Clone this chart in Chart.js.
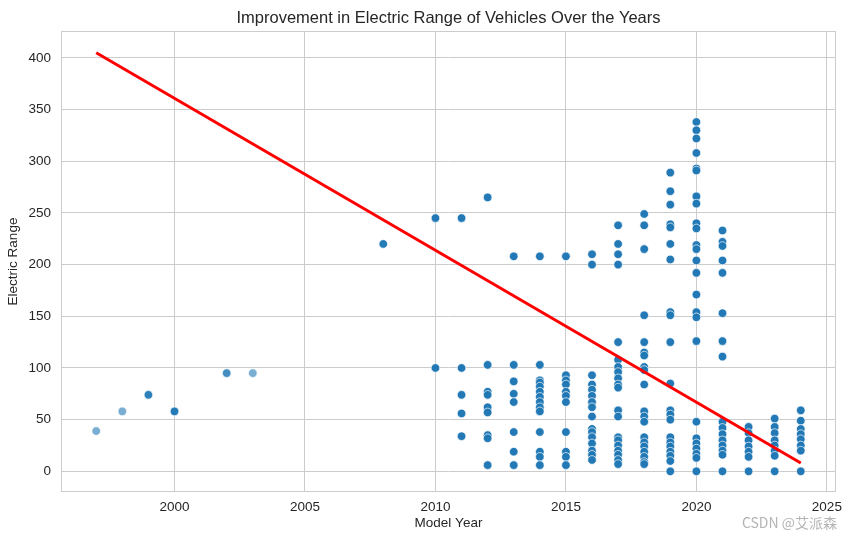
<!DOCTYPE html>
<html><head><meta charset="utf-8">
<script src="https://cdn.jsdelivr.net/npm/chart.js@4"></script>
<style>html,body{margin:0;padding:0;background:#fff}</style>
</head><body>
<canvas id="c" width="852" height="541" style="width:852px;height:541px;display:block"></canvas>
<script>
// ---- data ----
const modelYears = [
  1997,1998,1999,2000,2002,2003,2008,
  2010,2010,
  2011,2011,2011,2011,2011,
  2012,2012,2012,2012,2012,2012,2012,2012,2012,
  2013,2013,2013,2013,2013,2013,2013,2013,
  2014,2014,2014,2014,2014,2014,2014,2014,2014,2014,2014,2014,2014,2014,
  2015,2015,2015,2015,2015,2015,2015,2015,2015,2015,2015,
  2016,2016,2016,2016,2016,2016,2016,2016,2016,2016,2016,2016,2016,2016,2016,2016,
  2017,2017,2017,2017,2017,2017,2017,2017,2017,2017,2017,2017,2017,2017,2017,2017,2017,2017,2017,2017,
  2018,2018,2018,2018,2018,2018,2018,2018,2018,2018,2018,2018,2018,2018,2018,2018,2018,2018,2018,2018,
  2019,2019,2019,2019,2019,2019,2019,2019,2019,2019,2019,2019,2019,2019,2019,2019,2019,2019,2019,2019,2019,
  2020,2020,2020,2020,2020,2020,2020,2020,2020,2020,2020,2020,2020,2020,2020,2020,2020,2020,2020,2020,2020,2020,2020,2020,2020,
  2021,2021,2021,2021,2021,2021,2021,2021,2021,2021,2021,2021,2021,2021,2021,2021,
  2022,2022,2022,2022,2022,2022,2022,
  2023,2023,2023,2023,2023,2023,2023,2023,
  2024,2024,2024,2024,2024,2024,2024,2024
];
const electricRanges = [
  39,58,74,58,95,95,220,
  245,100,
  245,100,74,56,34,
  265,103,77,74,62,57,35,32,6,
  208,103,87,75,67,38,19,6,
  208,103,88,86,82,77,72,67,62,58,38,19,14,6,
  208,93,88,84,77,73,67,38,19,14,6,
  210,200,93,84,79,73,67,62,53,41,38,33,27,20,16,11,
  238,220,210,200,125,108,101,96,90,84,81,59,53,33,30,25,20,16,11,7,
  249,238,215,151,125,115,112,101,98,84,58,53,48,33,28,24,19,14,9,7,
  289,271,258,239,236,220,205,154,151,125,85,59,55,50,33,28,24,19,15,10,0,
  338,330,322,308,293,291,266,259,240,235,219,215,204,192,171,154,149,126,48,32,27,22,17,13,0,
  233,222,218,204,192,153,126,111,48,42,36,30,25,20,16,0,
  43,37,30,24,19,14,0,
  51,43,37,30,25,20,15,0,
  59,49,41,36,31,25,20,0
];
// number of vehicles overlapping at each early point (later points are dense)
const recordCounts = [1,1,3,4,2,1,4];
const regressionYears = [1997, 2024];
const regressionValues = [405, 8];
const xTickValues = [2000, 2005, 2010, 2015, 2020, 2025];
const yTickValues = [0, 50, 100, 150, 200, 250, 300, 350, 400];
const chartTitle = 'Improvement in Electric Range of Vehicles Over the Years';

// ---- build ----
const scatterPoints = modelYears.map((x, i) => ({x, y: electricRanges[i]}));
const regressionPoints = regressionYears.map((x, i) => ({x, y: regressionValues[i]}));

const FONT = '"Liberation Sans", Arial, sans-serif';
const TXT = '#262626';
const GRID = '#cccccc';

const framePlugin = {
  id: 'frame',
  beforeDatasetsDraw(chart) {
    const {ctx, chartArea: a} = chart;
    ctx.save();
    ctx.strokeStyle = GRID;
    ctx.lineWidth = 1;
    ctx.strokeRect(Math.round(a.left) + 0.5, Math.round(a.top) + 0.5,
                   Math.round(a.right - a.left) - 1, Math.round(a.bottom - a.top) - 1);
    ctx.restore();
  },
  afterDraw(chart) {
    const {ctx, chartArea: a} = chart;
    ctx.save();
    ctx.fillStyle = TXT;
    ctx.font = '16.5px ' + FONT;
    ctx.textAlign = 'center';
    ctx.textBaseline = 'middle';
    ctx.fillText(chartTitle, (a.left + a.right) / 2, 18.5);
    ctx.fillStyle = '#b4b4b4';
    ctx.font = '14px "Noto Sans CJK SC", "Liberation Sans", sans-serif';
    ctx.textAlign = 'right';
    ctx.fillText('CSDN @艾派森', 837, 523);
    ctx.restore();
  }
};

new Chart(document.getElementById('c'), {
  data: {
    datasets: [
      {
        type: 'line',
        data: regressionPoints,
        borderColor: '#ff0000',
        borderWidth: 3,
        pointRadius: 0,
        fill: false,
        order: 0
      },
      {
        type: 'scatter',
        data: scatterPoints,
        backgroundColor: (c) => {
          const n = c.dataIndex < recordCounts.length ? recordCounts[c.dataIndex] : 5;
          const a = 1 - Math.pow(0.4, n);
          return `rgba(31,119,180,${a.toFixed(3)})`;
        },
        borderColor: 'rgba(255,255,255,0.85)',
        borderWidth: 0.8,
        pointRadius: 4.3,
        pointHoverRadius: 4.3,
        order: 1
      }
    ]
  },
  options: {
    responsive: false,
    animation: false,
    events: [],
    layout: {padding: {left: 0, right: 16, top: 31, bottom: 0}},
    plugins: {
      legend: {display: false},
      tooltip: {enabled: false},
      title: {display: false}
    },
    scales: {
      x: {
        type: 'linear',
        min: 1995.65, max: 2025.35,
        afterBuildTicks: (s) => { s.ticks = xTickValues.map(v => ({value: v})); },
        afterFit: (s) => { s.height = 49; },
        ticks: {color: TXT, font: {family: FONT, size: 13.5}, padding: 7.5, callback: (v) => String(v), maxRotation: 0, autoSkip: false},
        grid: {color: GRID, lineWidth: 1, drawTicks: false},
        border: {display: false},
        title: {display: true, text: 'Model Year', color: TXT, font: {family: FONT, size: 13.5}, padding: {top: 0, bottom: 10}}
      },
      y: {
        type: 'linear',
        min: -20, max: 426,
        afterBuildTicks: (s) => { s.ticks = yTickValues.map(v => ({value: v})); },
        afterFit: (s) => { s.width = 61; },
        ticks: {color: TXT, font: {family: FONT, size: 13.5}, padding: 10, callback: (v) => String(v), autoSkip: false},
        grid: {color: GRID, lineWidth: 1, drawTicks: false},
        border: {display: false},
        title: {display: true, text: 'Electric Range', color: TXT, font: {family: FONT, size: 13.5}, padding: {top: 5, bottom: 0}}
      }
    }
  },
  plugins: [framePlugin]
});
</script>
</body></html>
